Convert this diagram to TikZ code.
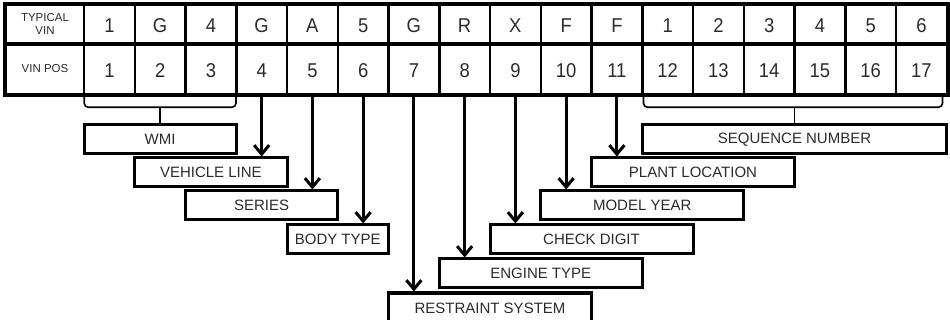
\documentclass[tikz,border=0pt]{standalone}
\usepackage{fontspec}
\setmainfont{Liberation Sans}
\newfontfamily\cellfont[FakeStretch=0.92]{Liberation Sans}
\usetikzlibrary{arrows.meta}
\definecolor{txt}{HTML}{2B2B2B}
\begin{document}
\begin{tikzpicture}[x=1pt,y=-1pt,
  cell/.style={draw, line width=2.5pt, minimum width=50.75pt, inner sep=0pt,
    font=\cellfont\fontsize{20}{20}\selectfont, text=txt},
  rowone/.style={cell, minimum height=38pt},
  rowtwo/.style={cell, minimum height=51pt},
  small/.style={font=\fontsize{11.5}{12.5}\selectfont, align=center, minimum width=78pt},
  lab/.style={draw, line width=3pt, minimum height=29pt, inner sep=0pt,
    font=\fontsize{15}{15}\selectfont, text=txt},
  arr/.style={line width=3pt, -{Straight Barb[length=9pt,width=15pt,line width=3pt]}},
  brace/.style={line width=1.6pt, rounded corners=4pt}]
\useasboundingbox (0,0) rectangle (950,320);
\clip (0,0) rectangle (950,320);
% table
\node[rowone, small] (h0) at (45,24) {TYPICAL\\VIN};
\node[rowtwo, small] (p0) at (45,68.5) {VIN POS};
\foreach \k/\v in {1/1,2/G,3/4,4/G,5/A,6/5,7/G,8/R,9/X,10/F,11/F,12/1,13/2,14/3,15/4,16/5,17/6}{
  \node[rowone, text height=17pt, text depth=0pt] (t\k) at ({84+(\k-0.5)*50.75},24) {\v};
  \node[rowtwo, text height=19pt, text depth=0pt] (p\k) at ({84+(\k-0.5)*50.75},68.5) {\k};
}
\draw[line width=4pt] (h0.south west) -- (t17.south east);
\draw[line width=3pt] (h0.north west) rectangle (p17.south east);
% label boxes
\node[lab, minimum width=152.25pt] (wmi) at (160.125,139.5) {WMI};
\node[lab, minimum width=152.25pt] (vl) at (210.875,172.5) {VEHICLE LINE};
\node[lab, minimum width=152.25pt] (ser) at (261.625,205.5) {SERIES};
\node[lab, minimum width=101.5pt] (body) at (337.75,239.5) {BODY TYPE};
\node[lab, minimum width=203pt, minimum height=30pt] (rest) at (490,308) {RESTRAINT SYSTEM};
\node[lab, minimum width=203pt] (eng) at (540.75,273.5) {ENGINE TYPE};
\node[lab, minimum width=203pt] (chk) at (591.5,239.5) {CHECK DIGIT};
\node[lab, minimum width=203pt] (my) at (642.25,205.5) {MODEL YEAR};
\node[lab, minimum width=203pt] (plant) at (693,172.5) {PLANT LOCATION};
\node[lab, minimum width=304.5pt] (seq) at (794.5,139.5) {SEQUENCE NUMBER};
% brackets
\draw[brace] ([xshift=1.5pt]p1.south west) -- ++(0,12) coordinate (wb) -| ([xshift=-1.5pt]p3.south east);
\draw[brace] (wmi.north) -- (wmi.north |- wb);
\draw[brace] ([xshift=2.5pt]p12.south west) -- ++(0,12) coordinate (sb) -| ([xshift=-5.5pt]p17.south east);
\draw[brace] (seq.north) -- (seq.north |- sb);
% arrows
\foreach \c/\n in {4/vl,5/ser,6/body,7/rest,8/eng,9/chk,10/my,11/plant}{
  \draw[arr] (p\c.south) -- (\n.north -| p\c.south);
}
\end{tikzpicture}
\end{document}
